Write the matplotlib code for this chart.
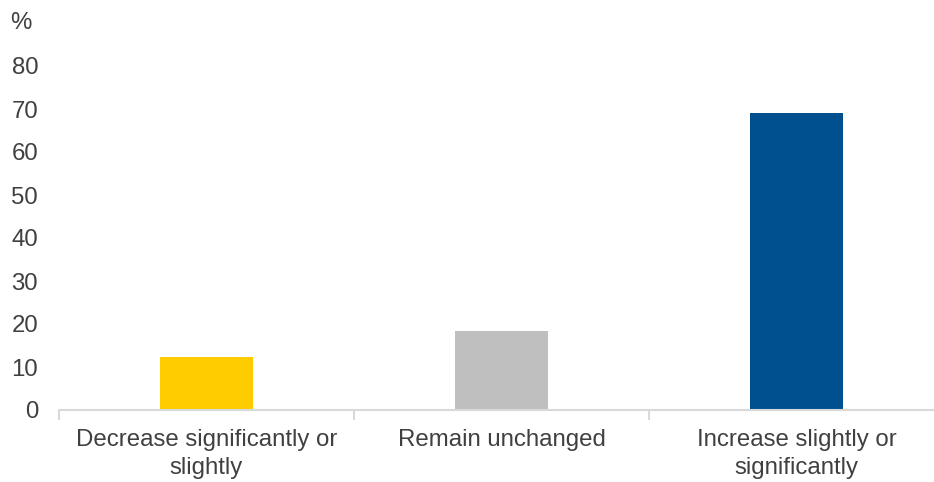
import matplotlib.pyplot as plt
import numpy as np

categories = ["Decrease significantly or\nslightly", "Remain unchanged", "Increase slightly or\nsignificantly"]
values = [12.3, 18.3, 69.1]
colors = ["#FFCC00", "#BFBFBF", "#00508F"]
yticks = [0, 10, 20, 30, 40, 50, 60, 70, 80]

plt.rcParams['font.family'] = ['Liberation Sans', 'DejaVu Sans']
text_color = "#404040"
axis_color = "#D9D9D9"
fs = 17.3

W, H = 934, 482
fig = plt.figure(figsize=(W / 100, H / 100), dpi=100)
# axis runs from x=59 to past the right edge, y from 410 (0) up to 66 (80)
ax = fig.add_axes([59 / W, (H - 410) / H, 885 / W, 344 / H])

x = np.arange(len(categories))
ax.bar(x, values, width=0.315, color=colors, zorder=2)

ax.set_xlim(-0.5, len(categories) - 0.5)
ax.set_ylim(0, 80)
ax.set_yticks(yticks)
ax.set_yticklabels([str(t) for t in yticks])
ax.set_xticks(x)
ax.set_xticklabels(categories)
ax.set_xticks(np.arange(-0.5, len(categories), 1.0), minor=True)

for s in ["top", "right", "left"]:
    ax.spines[s].set_visible(False)
ax.spines["bottom"].set_color(axis_color)
ax.spines["bottom"].set_linewidth(1.5)

ax.tick_params(axis="y", length=0, pad=15, labelsize=fs, labelcolor=text_color)
ax.tick_params(axis="x", which="major", length=0, pad=14, labelsize=fs, labelcolor=text_color)
ax.tick_params(axis="x", which="minor", length=7, width=1.5, color=axis_color)
for lbl in ax.get_xticklabels():
    lbl.set_linespacing(1.3)

fig.text(10 / W, 1 - 23 / H, "%", fontsize=fs, color=text_color, va="center", ha="left")

fig.savefig("out.png", dpi=100)
